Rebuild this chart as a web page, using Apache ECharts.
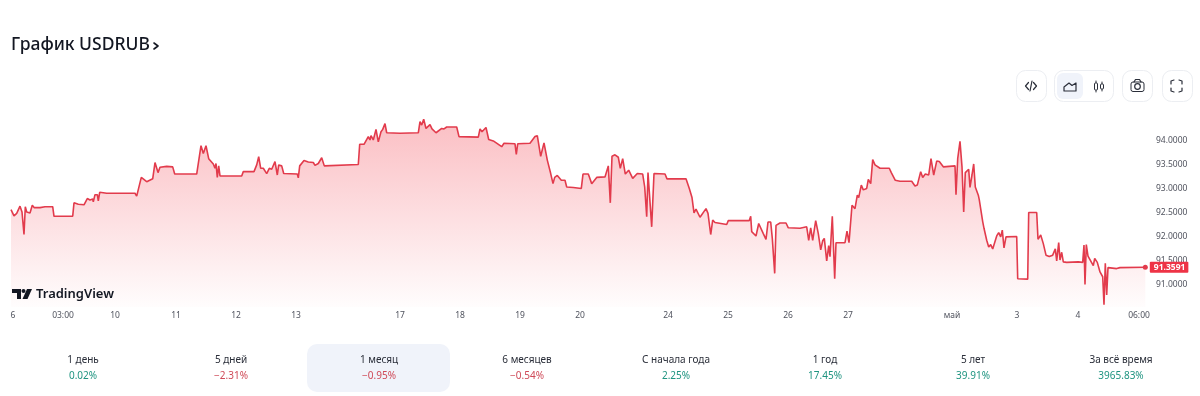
<!DOCTYPE html>
<html>
<head>
<meta charset="utf-8">
<style>html,body{margin:0;padding:0;background:#fff}#c{width:1200px;height:396px}</style>
<script src="https://cdn.jsdelivr.net/npm/echarts@6/dist/echarts.min.js"></script>
</head>
<body>
<div id="c"></div>
<script>
const barIndex = [0,1.7,3,5.7,9,11,13,14.3,15.7,19,21.3,23.3,29,34,41.7,43,61.7,63,67.3,73,76.3,79,81.7,82.3,84,86.3,87.3,88.7,95.7,124,125.7,130.3,135.7,141.7,144,145.7,147,149,155.7,161.7,163.7,185.7,190,192.3,195,197.7,202.3,204,205,206.3,207.7,209,230.7,232.3,243,245.7,247.7,249.7,252.3,255.7,258.3,260.7,264,265.3,266.3,267.7,270.7,272.7,286.3,287.3,288.7,293,297.3,302.3,304,307.3,310.7,313.3,347.3,348.7,353,357.3,359,360,362.3,365,367.3,370,371.7,374,375.7,389,
407.3,409,410.7,412.7,415,419,421,425,430.7,433,435.7,445.7,448,467.3,469,471,475,477.7,482.3,490.7,493,504,505.3,506.7,519,524,526.3,529.7,533,536.3,539.7,542,543.7,546.3,550.3,554,555.7,562.3,570.3,572,577.3,580.7,585.7,594,597.3,599.3,601,604,607.3,609.3,611.7,614.3,617.7,621.7,626.3,631.7,633.7,635.7,637,640.7,643,654,656,675,678.3,681,683,685,689,695,697,699.7,701.7,704,715.7,717.3,725.7,727.3,738.3,739.7,740.7,745,747.7,752.3,755,757,759.7,761.3,763.7,765,769,775,777.3,789,
795.7,797.7,799.7,801.7,804.7,807.3,809.7,811.7,813.3,815.7,817.7,819,821.3,823.7,825,834,836,838,839.7,841,844,846.3,847.7,850.3,852.3,855.7,857.3,859.7,861.7,864,869,878.3,880.3,882.3,884.3,889,900.7,904,906.3,909.7,911.7,914.3,917.7,920,922.7,925.7,928.3,932.3,944,945,946.7,949,951,952.7,954.3,957.7,959,961,962.7,964.3,967.3,968.3,971.7,973,975.7,977.7,979.7,981.7,985.7,987.7,989.7,991.3,993,995,1005.7,1006.7,1016.7,1017.7,1025.7,1027,1029.7,1032.3,1035,1038.3,1041.7,1044.3,1045.7,1047.7,1049,1050.7,1052.3,1055.7,1067.3,1071.7,1073,1074,1075.3,1077,1079,1082.3,1083.7,1086.3,1089,1091.7,1093,1094.3,1095.7,1097,1105.7,1109,1134.3];
const rate = [92.56,92.55,92.43,92.48,92.63,92.51,92.04,92.62,92.51,92.49,92.65,92.60,92.60,92.62,92.62,92.42,92.42,92.70,92.67,92.66,92.79,92.76,92.78,92.72,92.87,92.87,92.74,92.92,92.90,92.90,92.84,93.23,93.14,93.20,93.54,93.54,93.33,93.44,93.46,93.45,93.30,93.30,93.89,93.73,93.89,93.62,93.51,93.42,93.52,93.23,93.47,93.26,93.26,93.35,93.35,93.49,93.66,93.42,93.42,93.31,93.42,93.40,93.56,93.53,93.28,93.49,93.47,93.31,93.30,93.22,93.47,93.58,93.55,93.54,93.48,93.52,93.64,93.47,93.50,93.92,93.92,94.08,94.01,94.10,94.01,94.23,93.97,94.18,94.23,94.35,94.16,94.15,
94.16,94.39,94.32,94.44,94.25,94.33,94.24,94.16,94.25,94.24,94.28,94.28,94.08,94.07,94.24,94.18,94.27,94.02,93.99,93.87,93.94,93.93,93.71,93.93,93.94,94.08,94.10,93.67,93.95,93.59,93.31,93.10,93.23,93.27,93.17,93.17,93.03,93.02,93.00,93.30,93.30,93.10,93.23,93.24,93.47,92.70,93.67,93.70,93.65,93.42,93.62,93.30,93.38,93.21,93.31,93.30,93.03,92.41,93.33,92.20,93.31,93.30,93.20,93.20,93.00,92.81,92.49,92.57,92.40,92.58,92.48,92.04,92.34,92.29,92.25,92.33,92.33,92.31,92.33,92.42,92.10,92.01,92.27,92.06,91.94,92.30,92.30,91.96,91.23,92.23,92.28,92.28,92.18,92.17,
92.20,91.92,92.18,91.92,92.33,92.06,91.72,91.91,91.96,91.49,91.81,91.58,92.42,91.12,91.87,91.87,92.11,91.87,91.85,92.65,92.58,92.86,92.81,93.07,92.97,93.00,93.19,93.10,93.60,93.49,93.42,93.42,93.33,93.33,93.17,93.15,93.15,93.05,93.07,93.35,93.23,93.30,93.28,93.62,93.28,93.57,93.56,93.45,93.47,92.87,93.62,93.98,93.45,92.51,93.33,93.40,93.02,93.28,93.51,93.03,92.86,92.76,92.31,92.17,91.92,91.78,91.83,91.74,92.01,92.08,91.99,92.13,91.76,91.99,92.00,91.12,91.11,92.50,92.50,91.94,92.03,91.85,91.61,91.58,91.61,91.74,91.49,91.87,91.51,91.67,91.47,91.46,91.47,91.46,91.82,91.00,91.83,91.59,91.58,91.39,91.54,91.46,91.26,91.16,90.58,91.44,90.78,91.35,91.33,91.35,91.3591];
const xTickPos = [2,52,104,165,225,285,389,449,509,569,657,717,777,837,941,1006,1067,1128];
const xTickLabels = ['6','03:00','10','11','12','13','17','18','19','20','24','25','26','27','май','3','4','06:00'];
const yTicks = [91,91.5,92,92.5,93,93.5,94];
const lastPrice = 91.3591;
const periods = ['1 день','5 дней','1 месяц','6 месяцев','С начала года','1 год','5 лет','За всё время'];
const changes = ['0.02%','−2.31%','−0.95%','−0.54%','2.25%','17.45%','39.91%','3965.83%'];

const RED = '#e23b4c', GREEN = '#1f9480', LOSS = '#cf4a58', FONT = '"Noto Sans", sans-serif';
const periodX = [83,231,379,527,676,825,973,1121];
const gfx = [];
function box(x,y,w,h,r,fill,stroke){gfx.push({type:'rect',silent:true,shape:{x,y,width:w,height:h,r},style:{fill:fill||'#fff',stroke:stroke||null,lineWidth:1}});}
function line(pts,w,c){gfx.push({type:'polyline',silent:true,shape:{points:pts},style:{stroke:c||'#2a2e39',lineWidth:w||1.2,fill:null,lineCap:'round',lineJoin:'round'}});}
function txt(x,y,t,size,color,weight,align){gfx.push({type:'text',silent:true,x,y,style:{text:t,font:(weight||400)+' '+size+'px '+FONT,fill:color,textAlign:align||'center',textVerticalAlign:'middle'}});}

// title
txt(11,45,'График USDRUB',17.5,'#131722',500,'left');
line([[154,43],[158,46],[154,49]],1.6,'#131722');

// toolbar
[[1016,30],[1054,59],[1122,30],[1162,30]].forEach(b=>box(b[0]+.5,70.5,b[1],31,9,'#fff','#eceef2'));
box(1057,73,26,26,6,'#f0f3fa');
line([[1028.5,82.5],[1025.5,86],[1028.5,89.5]]);
line([[1033.5,82.5],[1036.5,86],[1033.5,89.5]]);
line([[1030,91],[1032,81]],1.2);
line([[1064,91],[1064,87],[1069,83],[1072,85.5],[1076,83],[1076,91],[1064,91]]);
line([[1096,81],[1096,92]],1);line([[1102,82],[1102,91]],1);
box(1094.5,83,3,7,1,'#fff','#2a2e39');box(1100.5,84,3,5,1,'#fff','#2a2e39');
box(1131,82,13,9.5,2,'none','#2a2e39');line([[1134,82],[1135.5,79.5],[1139.5,79.5],[1141,82]]);
gfx.push({type:'circle',silent:true,shape:{cx:1137.5,cy:86.5,r:2.8},style:{fill:'none',stroke:'#2a2e39',lineWidth:1.2}});
line([[1171,84],[1171,81],[1174,80]]);line([[1179,80],[1182,81],[1182,84]]);
line([[1171,88],[1171,91],[1174,92]]);line([[1179,92],[1182,91],[1182,88]]);

// logo
gfx.push({type:'polygon',silent:true,z:50,shape:{points:[[12,289],[21,289],[21,299],[17,299],[17,293],[12,293]]},style:{fill:'#131722'}});
gfx.push({type:'circle',silent:true,z:50,shape:{cx:23.5,cy:291,r:2},style:{fill:'#131722'}});
gfx.push({type:'polygon',silent:true,z:50,shape:{points:[[27,289],[32,289],[27.5,299],[22.5,299]]},style:{fill:'#131722'}});
gfx.push({type:'text',silent:true,z:50,x:36,y:294,style:{text:'TradingView',font:'600 13px '+FONT,fill:'#131722',textAlign:'left',textVerticalAlign:'middle'}});

// period tabs
box(307,344,143,48,10,'#f0f3fa');
periods.forEach((p,i)=>{
  txt(periodX[i],360,p,10,'#2a2e39');
  txt(periodX[i],376,changes[i],10,changes[i][0]==='−'?LOSS:GREEN);
});

const chart = echarts.init(document.getElementById('c'),null,{renderer:'canvas'});
chart.setOption({
  animation:false,
  backgroundColor:'#fff',
  grid:{left:11,right:54,top:115,bottom:89},
  tooltip:{show:false},
  xAxis:{type:'value',min:0,max:1135,splitLine:{show:false},axisLine:{show:false},axisTick:{show:false},
    axisLabel:{customValues:xTickPos,formatter:v=>xTickLabels[xTickPos.indexOf(v)]||'',color:'#50535e',fontSize:8.5,fontFamily:FONT,margin:4,hideOverlap:false,showMinLabel:true,showMaxLabel:true}},
  yAxis:{type:'value',min:90.53,max:94.53,position:'right',splitLine:{show:false},axisLine:{show:false},axisTick:{show:false},
    axisLabel:{customValues:yTicks,formatter:v=>v.toFixed(4),color:'#50535e',fontSize:8.5,fontFamily:FONT,margin:10,align:'left'}},
  series:[
    {type:'line',data:barIndex.map((x,i)=>[x,rate[i]]),showSymbol:false,symbol:'none',smooth:false,z:3,clip:false,
     lineStyle:{color:RED,width:1.6},
     areaStyle:{origin:'start',opacity:1,color:new echarts.graphic.LinearGradient(0,0,0,1,[{offset:0,color:'rgba(242,54,69,0.32)'},{offset:1,color:'rgba(242,54,69,0.01)'}])}},
    {type:'scatter',data:[[barIndex[barIndex.length-1],lastPrice]],symbol:'circle',symbolSize:5,z:5,clip:false,
     itemStyle:{color:RED,opacity:1},
     label:{show:true,position:'right',distance:2,formatter:()=>lastPrice.toFixed(4),color:'#fff',fontWeight:700,fontSize:8.5,fontFamily:FONT,backgroundColor:'#ee3346',padding:[1,3,1,4],borderRadius:1}}
  ],
  graphic:{elements:gfx}
});
</script>
</body>
</html>
